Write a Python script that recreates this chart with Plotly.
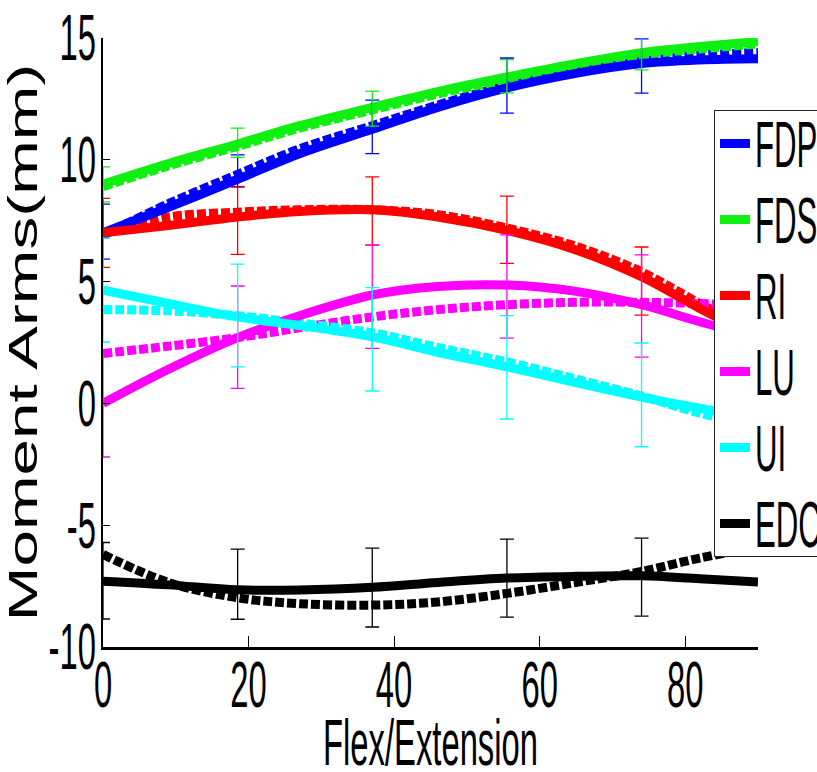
import plotly.graph_objects as go

# Wrist angle grid for the fitted curves (deg)
angle = [0, 9, 18.5, 27, 37, 46, 55.5, 65, 74, 82, 90]

# Measured moment arms (solid) and model predictions (dashed), mm
fdp_measured = [7.0, 8.05, 9.2, 10.25, 11.25, 12.15, 12.95, 13.55, 13.95, 14.1, 14.15]
fdp_model = [6.9, 8.2, 9.4, 10.45, 11.4, 12.25, 13.05, 13.7, 14.1, 14.3, 14.4]
fds_measured = [9.0, 9.85, 10.65, 11.4, 12.15, 12.8, 13.4, 13.95, 14.4, 14.65, 14.85]
fds_model = [8.9, 9.75, 10.55, 11.3, 12.05, 12.7, 13.3, 13.85, 14.3, 14.55, 14.75]
ri_measured = [7.0, 7.3, 7.65, 7.88, 7.95, 7.65, 7.1, 6.3, 5.2, 3.9, 2.7]
ri_model = [7.0, 7.65, 7.85, 7.95, 7.95, 7.75, 7.2, 6.45, 5.4, 4.1, 2.9]
lu_measured = [0.0, 1.4, 2.7, 3.6, 4.45, 4.8, 4.86, 4.6, 4.05, 3.35, 2.7]
lu_model = [2.05, 2.35, 2.7, 3.1, 3.55, 3.85, 4.05, 4.15, 4.15, 4.1, 4.0]
ui_measured = [4.65, 4.1, 3.55, 3.2, 2.73, 2.1, 1.5, 0.85, 0.26, -0.2, -0.6]
ui_model = [3.85, 3.8, 3.6, 3.3, 2.9, 2.3, 1.7, 1.0, 0.3, -0.4, -0.95]
edc_measured = [-7.3, -7.45, -7.65, -7.66, -7.55, -7.35, -7.17, -7.1, -7.08, -7.2, -7.33]
edc_model = [-6.2, -7.35, -7.98, -8.22, -8.28, -8.15, -7.8, -7.35, -6.9, -6.35, -5.9]

# Specimen means and standard deviations at the sampled angles
angle_err = [0, 18.5, 37, 55.5, 74]
fdp_mean = [7.05, 9.55, 11.35, 13.05, 13.85]
fdp_sd = [1.13, 0.65, 1.1, 1.13, 1.11]
fds_mean = [8.99, 10.7, 12.1, 13.43, 14.37]
fds_sd = [0.72, 0.6, 0.72, 0.68, 0.68]
ri_mean = [7.0, 7.5, 7.9, 7.13, 5.02]
ri_sd = [1.42, 1.38, 1.4, 1.38, 1.4]
lu_mean = [0.0, 2.72, 4.38, 4.8, 4.0]
lu_sd = [2.2, 2.1, 2.12, 2.12, 2.1]
ui_mean = [4.65, 3.61, 2.63, 1.48, 0.35]
ui_sd = [2.13, 2.11, 2.12, 2.12, 2.13]
edc_mean = [-7.28, -7.42, -7.56, -7.17, -7.13]
edc_sd = [1.57, 1.44, 1.62, 1.6, 1.6]

muscles = ["FDP", "FDS", "RI", "LU", "UI", "EDC"]
colors = ["#0000ff", "#10f010", "#ff0000", "#ff00ff", "#00ffff", "#000000"]
measured = [fdp_measured, fds_measured, ri_measured, lu_measured, ui_measured, edc_measured]
model = [fdp_model, fds_model, ri_model, lu_model, ui_model, edc_model]
means = [fdp_mean, fds_mean, ri_mean, lu_mean, ui_mean, edc_mean]
sds = [fdp_sd, fds_sd, ri_sd, lu_sd, ui_sd, edc_sd]

x_ticks = [0, 20, 40, 60, 80]
y_ticks = [-10, -5, 0, 5, 10, 15]

FONT = "Liberation Sans, Arial, sans-serif"

fig = go.Figure()

# model curves underneath
for name, col, ys in zip(muscles, colors, model):
    fig.add_trace(go.Scatter(
        x=angle, y=ys, mode="lines", showlegend=False, legendgroup=name,
        line=dict(color=col, width=9, dash="9px,3px", shape="spline", smoothing=1),
        hoverinfo="skip"))

# measured curves on top, these carry the legend
for name, col, ys in zip(muscles, colors, measured):
    fig.add_trace(go.Scatter(
        x=angle, y=ys, mode="lines", name=name, legendgroup=name,
        line=dict(color=col, width=9, shape="spline", smoothing=1)))

# error bars (mean +/- sd)
for name, col, m, s in zip(muscles, colors, means, sds):
    fig.add_trace(go.Scatter(
        x=angle_err, y=m, mode="markers", showlegend=False, legendgroup=name,
        marker=dict(size=1, color="rgba(0,0,0,0)"),
        error_y=dict(type="data", array=s, visible=True, color=col,
                     thickness=1.3, width=7)))

fig.update_layout(
    width=817, height=772,
    margin=dict(l=103, r=59, t=38, b=125, autoexpand=False),
    paper_bgcolor="white", plot_bgcolor="white",
    font=dict(family=FONT, size=40, color="black"),
    showlegend=True,
    legend=dict(
        x=0.9328, y=0.8818, xanchor="left", yanchor="top",
        bgcolor="white", bordercolor="#222222", borderwidth=1,
        font=dict(family=FONT, size=40, color="black"),
        tracegroupgap=21, itemwidth=30,
    ),
)

fig.update_xaxes(
    range=[0, 90], tickvals=x_ticks, ticktext=[str(v) for v in x_ticks],
    showline=True, linecolor="black", linewidth=2.5,
    ticks="inside", ticklen=11, tickwidth=1.3, tickcolor="black",
    showgrid=False, zeroline=False, automargin=False,
    ticklabelstandoff=1,
    tickfont=dict(family=FONT, size=40, color="black"),
    title=dict(text="Flex/Extension", standoff=23,
               font=dict(family=FONT, size=40, color="black")),
)
fig.update_yaxes(
    range=[-10, 15], tickvals=y_ticks, ticktext=[str(v) for v in y_ticks],
    showline=True, linecolor="black", linewidth=2,
    ticks="inside", ticklen=7, tickwidth=1.3, tickcolor="black",
    showgrid=False, zeroline=False, automargin=False,
    ticklabelstandoff=-3,
    tickfont=dict(family=FONT, size=40, color="black"),
    title=dict(text="Moment Arms(mm)", standoff=0,
               font=dict(family=FONT, size=41, color="black")),
)

# The figure was exported with a tall aspect and narrow tick/legend type:
# rescale each label about its anchor point (start / middle / end).
post = """
var gd = document.getElementById('{plot_id}');
function rescale(sel, sx, sy) {
  gd.querySelectorAll(sel).forEach(function (el) {
    var bb = el.getBBox();
    var anchor = el.getAttribute('text-anchor') || 'start';
    var ax = bb.x;
    if (anchor === 'end') { ax = bb.x + bb.width; }
    else if (anchor === 'middle') { ax = bb.x + bb.width / 2; }
    var p = el.ownerSVGElement.createSVGPoint();
    p.x = ax;
    p.y = bb.y + bb.height / 2;
    var t = el.transform.baseVal.consolidate();
    if (t) { p = p.matrixTransform(t.matrix); }
    var prev = el.getAttribute('transform') || '';
    el.setAttribute('transform',
      'translate(' + p.x + ',' + p.y + ') scale(' + sx + ',' + sy + ') translate(' +
      (-p.x) + ',' + (-p.y) + ') ' + prev);
  });
}
rescale('.xtick text, .ytick text, .g-xtitle text', 0.82, 1.6);
rescale('.legendtext', 0.78, 1.6);
rescale('.g-ytitle text', 1, 1.6);
"""

fig.write_html("out.html", post_script=post)
